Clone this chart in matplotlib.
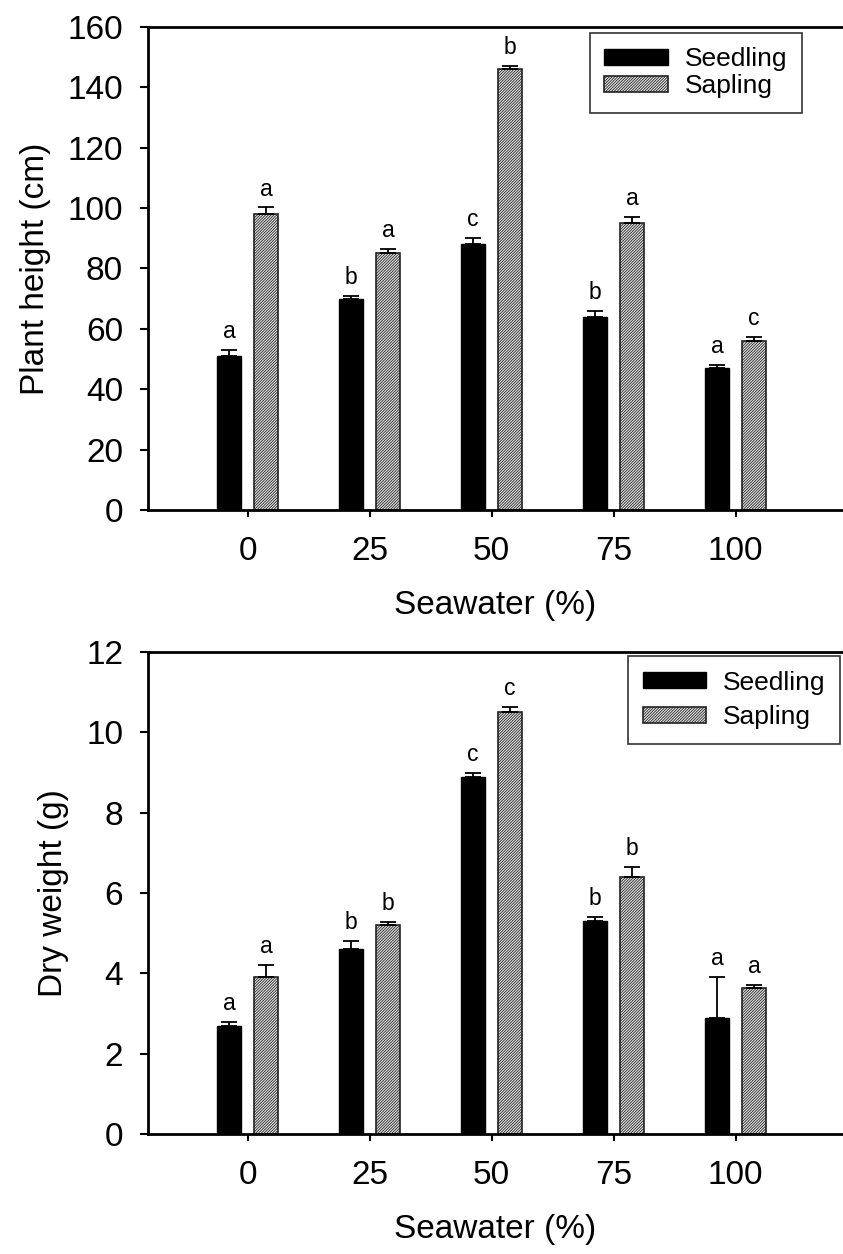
import numpy as np
import matplotlib.pyplot as plt

plt.rcParams['font.family'] = ['Liberation Sans', 'DejaVu Sans']
plt.rcParams['hatch.linewidth'] = 0.6

seawater = ['0', '25', '50', '75', '100']

# Plant height (cm)
height_seedling = [51, 70, 88, 64, 47]
height_seedling_err = [2, 1, 2, 2, 1]
height_sapling = [98, 85, 146, 95, 56]
height_sapling_err = [2.2, 1.5, 1, 2, 1.2]
height_seedling_letters = ['a', 'b', 'c', 'b', 'a']
height_sapling_letters = ['a', 'a', 'b', 'a', 'c']

# Dry weight (g)
dry_seedling = [2.7, 4.6, 8.9, 5.3, 2.9]
dry_seedling_err = [0.1, 0.2, 0.1, 0.1, 1.0]
dry_sapling = [3.9, 5.2, 10.5, 6.4, 3.63]
dry_sapling_err = [0.3, 0.07, 0.13, 0.25, 0.07]
dry_seedling_letters = ['a', 'b', 'c', 'b', 'a']
dry_sapling_letters = ['a', 'b', 'c', 'b', 'a']

fig = plt.figure(figsize=(8.43, 12.54), dpi=100)
ax1 = fig.add_axes([0.1756, 0.5933, 0.8244, 0.3852])
ax2 = fig.add_axes([0.1756, 0.0957, 0.8244, 0.3843])

x = np.arange(len(seawater))
w = 0.197
off = 0.152


def panel(ax, s, s_err, p, p_err, s_let, p_let, ylim, yticks, ylabel, legend_anchor, lspace):
    ax.bar(x - off, s, w, color='black', edgecolor='black', label='Seedling', zorder=2)
    ax.bar(x + off, p, w, color='#e8e8e8', edgecolor='#222222', hatch='////////////',
           linewidth=1.2, label='Sapling', zorder=2)
    ax.errorbar(x - off, s, yerr=[np.zeros(len(s)), s_err], fmt='none', ecolor='black',
                elinewidth=1.3, capsize=6, capthick=1.3, zorder=3)
    ax.errorbar(x + off, p, yerr=[np.zeros(len(p)), p_err], fmt='none', ecolor='black',
                elinewidth=1.3, capsize=6, capthick=1.3, zorder=3)
    for xi, v, e, t in zip(x - off, s, s_err, s_let):
        ax.annotate(t, (xi, v + e), xytext=(0, 5), textcoords='offset points',
                    ha='center', va='bottom', fontsize=16.5)
    for xi, v, e, t in zip(x + off, p, p_err, p_let):
        ax.annotate(t, (xi, v + e), xytext=(0, 5), textcoords='offset points',
                    ha='center', va='bottom', fontsize=16.5)
    ax.set_xlim(-0.816, 4.88)
    ax.set_ylim(*ylim)
    ax.set_yticks(yticks)
    ax.set_xticks(x)
    ax.set_xticklabels(seawater)
    ax.tick_params(axis='both', labelsize=24, width=1.5, direction='out')
    ax.tick_params(axis='y', length=6, pad=12)
    ax.tick_params(axis='x', length=5, pad=14)
    ax.set_xlabel('Seawater (%)', fontsize=24, labelpad=16)
    ax.set_ylabel(ylabel, fontsize=24, labelpad=12)
    ax.spines['right'].set_visible(False)
    for sp in ['left', 'bottom', 'top']:
        ax.spines[sp].set_linewidth(2)
    leg = ax.legend(loc='upper right', bbox_to_anchor=legend_anchor, fontsize=19,
                    handlelength=2.4, handleheight=0.55, fancybox=False,
                    borderpad=0.55, labelspacing=lspace, handletextpad=0.65,
                    borderaxespad=0)
    leg.get_frame().set_edgecolor('black')
    leg.get_frame().set_linewidth(1.2)


panel(ax1, height_seedling, height_seedling_err, height_sapling, height_sapling_err,
      height_seedling_letters, height_sapling_letters, (0, 160),
      np.arange(0, 161, 20), 'Plant height (cm)', (0.9406, 0.9876), 0.1)
panel(ax2, dry_seedling, dry_seedling_err, dry_sapling, dry_sapling_err,
      dry_seedling_letters, dry_sapling_letters, (0, 12),
      np.arange(0, 13, 2), 'Dry weight (g)', (0.9957, 0.9917), 0.4)

fig.savefig('out.png', dpi=100)
